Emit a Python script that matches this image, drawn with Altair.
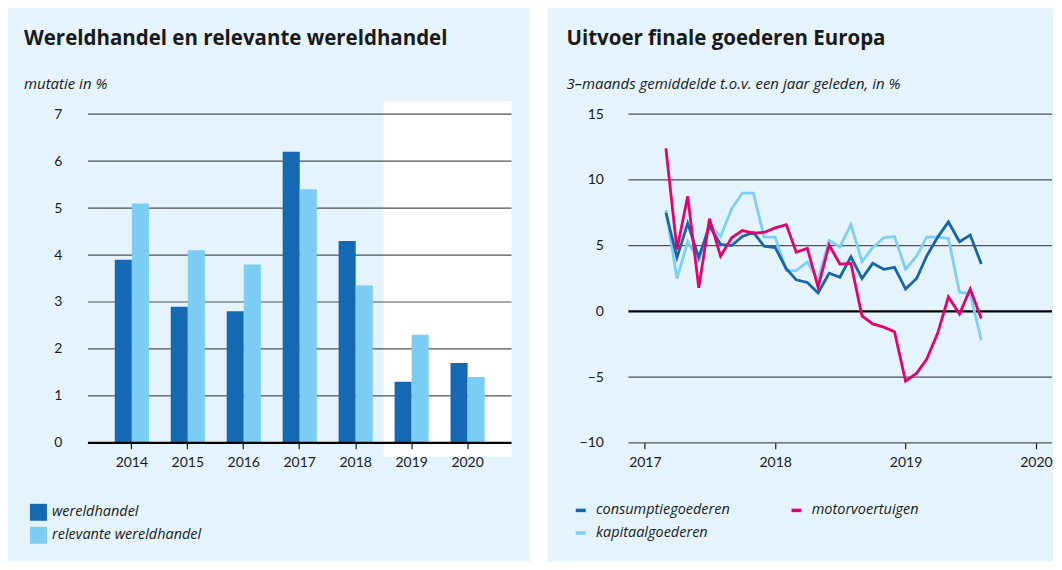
import altair as alt
import pandas as pd

# ---------------- data ----------------
years = ["2014", "2015", "2016", "2017", "2018", "2019", "2020"]
wereldhandel = [3.9, 2.9, 2.8, 6.2, 4.3, 1.3, 1.7]
relevante_wereldhandel = [5.1, 4.1, 3.8, 5.4, 3.35, 2.3, 1.4]
left_series = ["wereldhandel", "relevante wereldhandel"]
left_colors = ["#1569b2", "#7bcdf3"]
left_grid = [1, 2, 3, 4, 5, 6, 7]
left_ticks = [0, 1, 2, 3, 4, 5, 6, 7]

months = ["2017-03", "2017-04", "2017-05", "2017-06", "2017-07", "2017-08",
          "2017-09", "2017-10", "2017-11", "2017-12", "2018-01", "2018-02",
          "2018-03", "2018-04", "2018-05", "2018-06", "2018-07", "2018-08",
          "2018-09", "2018-10", "2018-11", "2018-12", "2019-01", "2019-02",
          "2019-03", "2019-04", "2019-05", "2019-06", "2019-07", "2019-08"]
consumptiegoederen = [7.5, 4.1, 6.7, 4.1, 6.5, 5.1, 5.0, 5.7, 6.0, 4.95,
                      4.85, 3.25, 2.4, 2.2, 1.4, 2.9, 2.6, 4.15, 2.5, 3.65,
                      3.2, 3.35, 1.7, 2.5, 4.2, 5.65, 6.8, 5.3, 5.8, 3.6]
kapitaalgoederen = [7.7, 2.5, 5.3, 3.9, 6.6, 5.7, 7.8, 9.0, 9.0, 5.65,
                    5.65, 3.1, 3.1, 3.75, 2.4, 5.4, 4.9, 6.6, 3.8, 4.85,
                    5.6, 5.7, 3.2, 4.2, 5.65, 5.65, 5.55, 1.45, 1.35, -2.2]
motorvoertuigen = [12.4, 4.7, 8.75, 1.8, 7.05, 4.2, 5.6, 6.15, 5.95, 6.0,
                   6.35, 6.6, 4.5, 4.8, 1.85, 5.05, 3.6, 3.65, -0.35, -0.95,
                   -1.2, -1.55, -5.3, -4.7, -3.65, -1.65, 1.1, -0.2, 1.7, -0.55]
# legend fills column by column: consumptie/kapitaal in column 1, motor in column 2
right_series = ["consumptiegoederen", "kapitaalgoederen", "motorvoertuigen"]
right_colors = ["#1666ae", "#7dcff4", "#e5006e"]
right_grid = [-10, -5, 5, 10, 15]
right_ticks = [-10, -5, 0, 5, 10, 15]
right_years = [2017, 2018, 2019, 2020]

left_title = "Wereldhandel en relevante wereldhandel"
left_sub = "mutatie in %"
right_title = "Uitvoer finale goederen Europa"
right_sub = "3\u2013maands gemiddelde t.o.v. een jaar geleden, in %"

# ---------------- styling ----------------
BG = "#e5f4fc"
TXT = "#1a1a1a"
GRID = "#505356"
FONT = "Lato"
TFONT = "Open Sans"
W, H = 424, 329

one = pd.DataFrame({"k": [0]})


def text_layer(txt, x, y, size, weight="normal", style="normal"):
    return alt.Chart(pd.DataFrame({"t": [txt]})).mark_text(
        align="left", baseline="alphabetic", fontSize=size, fontWeight=weight,
        fontStyle=style, font=TFONT, color=TXT
    ).encode(text="t:N", x=alt.value(x), y=alt.value(y))


# ---------------- left chart ----------------
bars_df = pd.DataFrame({
    "jaar": years * 2,
    "reeks": [left_series[0]] * len(years) + [left_series[1]] * len(years),
    "waarde": wereldhandel + relevante_wereldhandel,
})
ly = alt.Scale(domain=[0, 7], nice=False)
ly_axis = alt.Axis(title=None, values=left_ticks, format="d", domain=False,
                   ticks=False, tickSize=0, grid=False, labelPadding=26,
                   labelFontSize=14, labelColor=TXT, labelFont=FONT, zindex=1)

l_bg = alt.Chart(one).mark_rect(color=BG).encode(
    x=alt.value(-80), x2=alt.value(W + 18), y=alt.value(-106), y2=alt.value(H + 119))
l_white = alt.Chart(one).mark_rect(color="white").encode(
    x=alt.value(296), x2=alt.value(W), y=alt.value(-13), y2=alt.value(H + 14))
l_grid = alt.Chart(pd.DataFrame({"waarde": left_grid})).mark_rule(
    color=GRID, strokeWidth=1.2).encode(
    y=alt.Y("waarde:Q", scale=ly, axis=ly_axis), x=alt.value(0), x2=alt.value(W))
l_bars = alt.Chart(bars_df).mark_bar().encode(
    x=alt.X("jaar:N", sort=years,
            scale=alt.Scale(paddingInner=0.39, paddingOuter=0.48),
            axis=alt.Axis(title=None, labelAngle=0, domain=False, ticks=True,
                          tickSize=6, tickColor=TXT, tickWidth=1.2,
                          labelPadding=7, labelFontSize=14, labelColor=TXT,
                          labelFont=FONT, zindex=1)),
    xOffset=alt.XOffset("reeks:N", sort=left_series,
                        scale=alt.Scale(domain=left_series, paddingInner=0, paddingOuter=0)),
    y=alt.Y("waarde:Q", scale=ly, axis=ly_axis),
    color=alt.Color("reeks:N",
                    scale=alt.Scale(domain=left_series, range=left_colors),
                    legend=alt.Legend(title=None, orient="none", legendX=-58, legendY=390,
                                      symbolType="square", symbolSize=289,
                                      symbolStrokeWidth=0, labelFontSize=14.5,
                                      labelFontStyle="italic", labelFont=TFONT,
                                      labelColor=TXT, labelOffset=5, rowPadding=6,
                                      zindex=1)),
)
l_zero = alt.Chart(pd.DataFrame({"waarde": [0]})).mark_rule(
    color="black", strokeWidth=2.4).encode(
    y=alt.Y("waarde:Q", scale=ly, axis=ly_axis), x=alt.value(0), x2=alt.value(W))

left = alt.layer(
    l_bg, l_white, l_grid, l_bars, l_zero,
    text_layer(left_title, -64, -69, 20.5, weight="bold"),
    text_layer(left_sub, -64, -25, 15, style="italic"),
).properties(width=W, height=H)

# ---------------- right chart ----------------
dates = pd.to_datetime(months * 3)
lines_df = pd.DataFrame({
    "datum": dates,
    "reeks": ["kapitaalgoederen"] * len(months) + ["consumptiegoederen"] * len(months)
             + ["motorvoertuigen"] * len(months),
    "waarde": kapitaalgoederen + consumptiegoederen + motorvoertuigen,
    "volg": [0] * len(months) + [1] * len(months) + [2] * len(months),
})
ry = alt.Scale(domain=[-10, 15], nice=False)
ry_axis = alt.Axis(title=None, values=right_ticks, domain=False, ticks=False,
                   tickSize=0, grid=False, labelPadding=25, labelFontSize=14,
                   labelColor=TXT, labelFont=FONT, zindex=1)
rx = alt.Scale(domain=[alt.DateTime(year=2016, month=11, date=16),
                       alt.DateTime(year=2020, month=2, date=15)], nice=False)

r_bg = alt.Chart(one).mark_rect(color=BG).encode(
    x=alt.value(-81), x2=alt.value(W + 1), y=alt.value(-106), y2=alt.value(H + 119))
r_grid = alt.Chart(pd.DataFrame({"waarde": right_grid})).mark_rule(
    color=GRID, strokeWidth=1.2).encode(
    y=alt.Y("waarde:Q", scale=ry, axis=ry_axis), x=alt.value(0), x2=alt.value(W))
r_zero = alt.Chart(pd.DataFrame({"waarde": [0]})).mark_rule(
    color="black", strokeWidth=2.2).encode(
    y=alt.Y("waarde:Q", scale=ry, axis=ry_axis), x=alt.value(0), x2=alt.value(W))
r_lines = alt.Chart(lines_df).mark_line(strokeWidth=2.8).encode(
    x=alt.X("datum:T", scale=rx,
            axis=alt.Axis(title=None, values=[alt.DateTime(year=y) for y in right_years],
                          format="%Y", domain=False, ticks=True, tickSize=6,
                          tickColor=TXT, tickWidth=1.2, grid=False, labelPadding=7,
                          labelFontSize=14, labelColor=TXT, labelFont=FONT, zindex=1)),
    y=alt.Y("waarde:Q", scale=ry, axis=ry_axis),
    color=alt.Color("reeks:N",
                    scale=alt.Scale(domain=right_series, range=right_colors),
                    legend=alt.Legend(title=None, orient="none", legendX=-55, legendY=389,
                                      columns=2, columnPadding=54, rowPadding=7,
                                      symbolType="stroke", symbolSize=100,
                                      symbolStrokeWidth=3.5, labelFontSize=14.5,
                                      labelFontStyle="italic", labelFont=TFONT,
                                      labelColor=TXT, labelOffset=8, zindex=1)),
    detail="volg:N",
    order="datum:T",
)

right = alt.layer(
    r_bg, r_grid, r_zero, r_lines,
    text_layer(right_title, -62, -69, 20.5, weight="bold"),
    text_layer(right_sub, -62, -25, 15, style="italic"),
).properties(width=W, height=H)

chart = alt.hconcat(left, right, spacing=18).resolve_scale(
    color="independent", x="independent", y="independent"
).configure(
    padding=0, background="white", font=FONT
).configure_view(stroke=None)

chart.save("out.html", embed_options={"renderer": "svg", "actions": False})
